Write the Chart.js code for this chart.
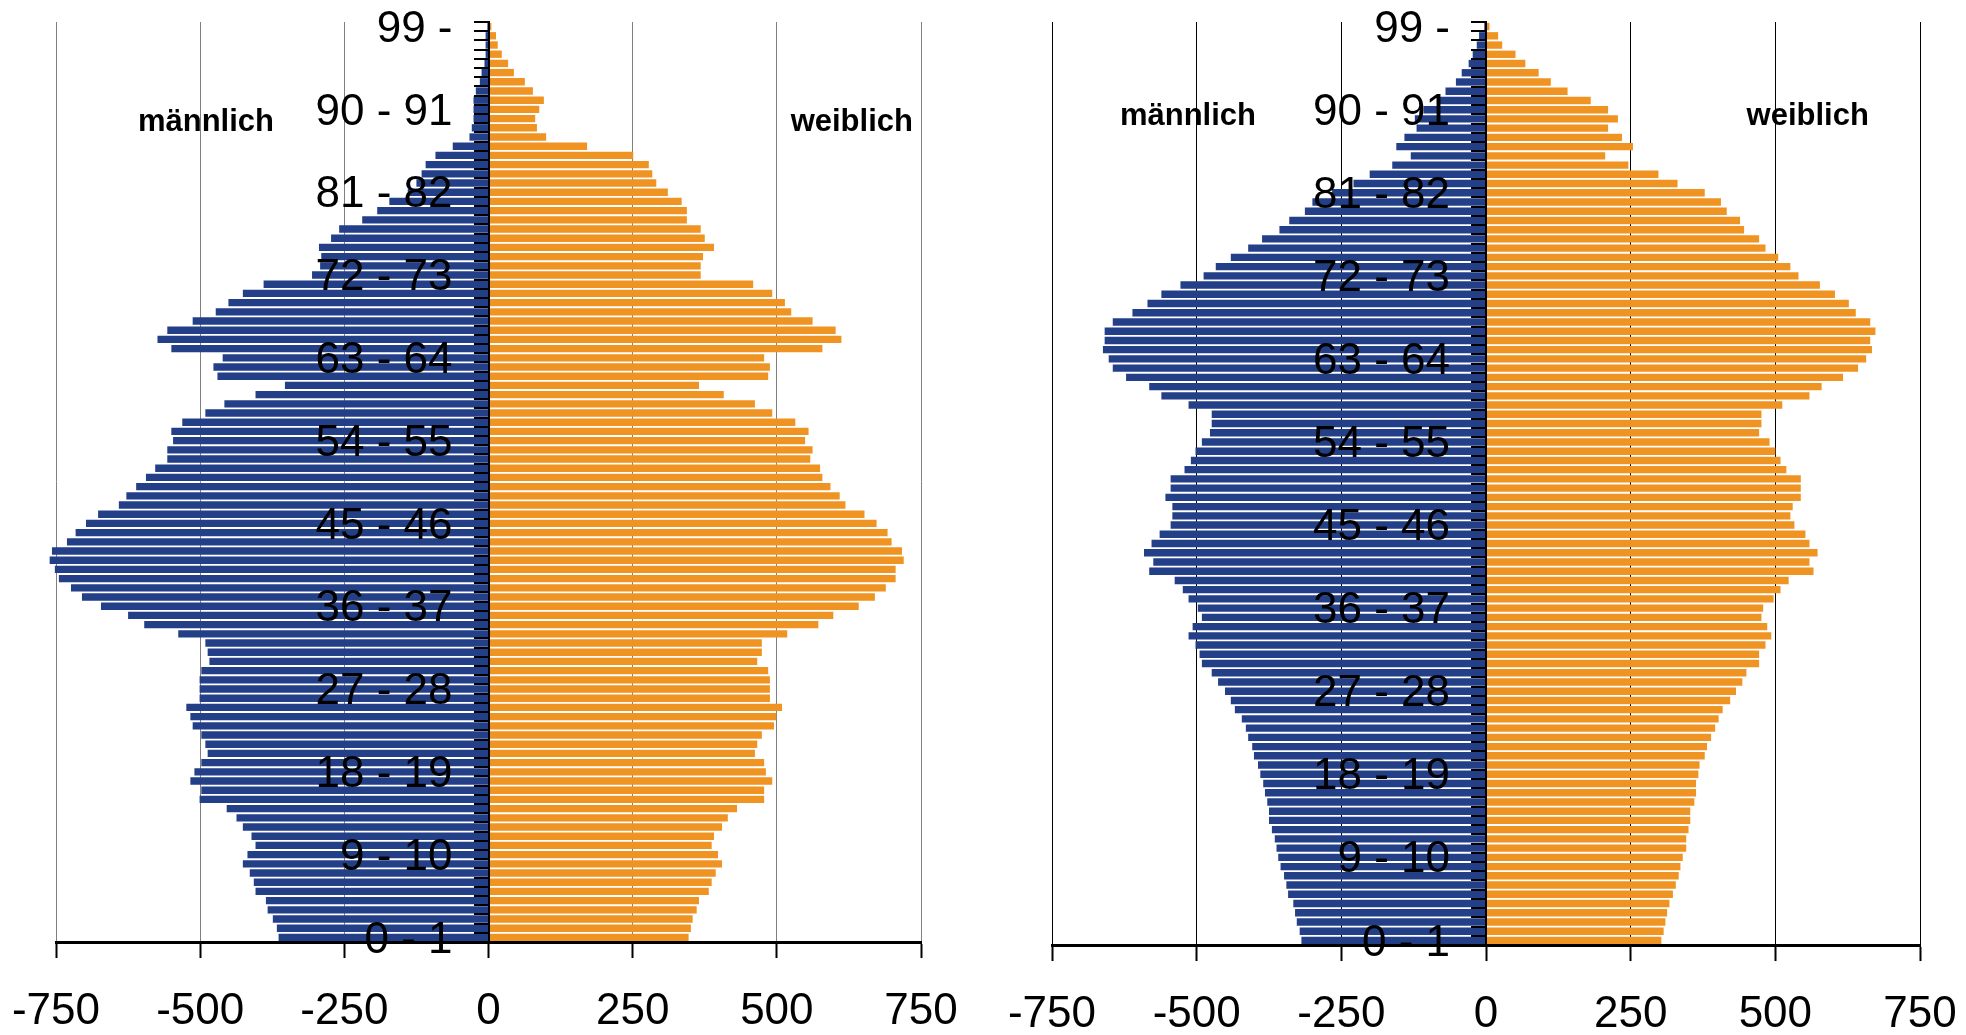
<!DOCTYPE html>
<html>
<head>
<meta charset="utf-8">
<script src="https://cdn.jsdelivr.net/npm/chart.js@4/dist/chart.umd.min.js"></script>
<style>
  html, body { margin: 0; padding: 0; background: #fff; }
  body { width: 1966px; height: 1035px; overflow: hidden; position: relative; }
  .box { position: absolute; top: 0; width: 983px; }
  #boxLeft { left: 0; height: 1066px; }
  #boxRight { left: 983px; height: 1069px; }
</style>
</head>
<body>
<div class="box" id="boxLeft"><canvas id="chartLeft"></canvas></div>
<div class="box" id="boxRight"><canvas id="chartRight"></canvas></div>
<script>
// Altersgruppen 0 - 1 ... 99 -
const ageLabels = [];
for (let a = 0; a < 100; a++) ageLabels.push(a < 99 ? a + ' - ' + (a + 1) : '99 -');

const xTicks = [-750, -500, -250, 0, 250, 500, 750];

// linke Pyramide (index 0 = Alter 0 - 1)
const leftMaennlich = [364,367,374,383,386,404,407,414,426,418, 404,411,426,437,454,501,498,517,510,498,
  487,491,498,513,517,524,501,501,501,498, 484,487,491,538,597,625,672,705,724,745,
  752,761,757,731,716,698,677,641,628,611, 594,578,557,557,547,550,531,491,458,404,
  353,470,477,461,550,574,557,513,473,451, 426,390,306,292,290,294,273,259,219,193,
  172,140,125,116,109,92,62,33,29,26, 26,26,22,15,12,7,5,5,5,2];
const leftWeiblich = [347,351,354,361,365,382,387,394,405,398, 387,391,405,415,431,478,478,492,481,478,
  462,466,474,495,499,509,488,488,488,485, 466,474,474,518,572,598,642,670,689,706,
  706,720,717,699,692,673,652,619,609,593, 579,575,558,562,549,555,532,492,462,408,
  365,485,488,478,579,612,602,562,525,514, 492,459,368,368,372,391,375,368,344,344,
  335,311,291,284,278,251,171,100,84,81, 88,96,77,63,44,34,23,16,13,5];

// rechte Pyramide
const rightMaennlich = [319,322,327,330,333,342,345,349,355,359, 362,365,370,375,375,378,382,385,390,394,
  401,404,411,415,422,434,441,451,463,474, 491,495,502,514,507,491,498,514,524,538,
  582,575,591,578,564,545,542,542,554,545, 545,521,510,502,491,477,474,474,514,561,
  582,622,645,652,662,659,659,645,611,585, 561,528,488,467,441,411,387,357,340,313,
  300,266,229,201,162,130,155,141,120,123, 108,85,70,52,42,30,23,16,12,3];
const rightWeiblich = [303,307,310,313,317,323,328,333,336,340, 346,346,350,353,353,360,363,363,367,369,
  378,382,389,396,402,409,422,432,443,450, 472,472,483,493,486,476,479,497,509,523,
  566,559,573,559,552,533,526,530,544,544, 544,519,509,500,490,472,476,476,512,559,
  580,617,643,657,667,664,673,664,639,627, 603,577,540,526,505,483,472,446,439,416,
  406,378,331,298,246,206,254,235,211,228, 211,181,141,112,91,68,51,28,21,6];

const BLAU = '#233f88';
const ORANGE = '#ef9322';
const FONT = "'Liberation Sans', Arial, sans-serif";

Chart.defaults.font.family = FONT;
Chart.defaults.color = '#000';

// Alterslabels (jede 9. Gruppe) links neben der Nullachse, über den Balken
const ageAxisLabels = {
  id: 'ageAxisLabels',
  afterDraw(chart) {
    const {ctx, scales: {x, y}} = chart;
    const x0 = x.getPixelForValue(0) - 36;
    ctx.save();
    ctx.font = '44px ' + FONT;
    ctx.fillStyle = '#000';
    ctx.textAlign = 'right';
    ctx.textBaseline = 'middle';
    ageLabels.forEach((lab, i) => {
      if (i % 9 === 0) ctx.fillText(lab, x0, y.getPixelForValue(i) + 3);
    });
    ctx.restore();
  }
};

const sideLabels = {
  id: 'sideLabels',
  afterDatasetsDraw(chart, args, opts) {
    const {ctx, scales: {x}, chartArea} = chart;
    ctx.save();
    ctx.font = 'bold 31px ' + FONT;
    ctx.fillStyle = '#000';
    ctx.textAlign = 'center';
    ctx.textBaseline = 'middle';
    const y = chartArea.top + opts.dy;
    ctx.fillText('männlich', x.getPixelForValue(opts.m), y);
    ctx.fillText('weiblich', x.getPixelForValue(opts.w), y);
    ctx.restore();
  }
};

function makePyramid(id, maennlich, weiblich, pad, gridColor, lab) {
  const ctx = document.getElementById(id).getContext('2d');
  return new Chart(ctx, {
    type: 'bar',
    data: {
      labels: ageLabels,
      datasets: [
        { label: 'männlich', data: maennlich.map(v => -v), backgroundColor: BLAU, borderWidth: 0, clip: false },
        { label: 'weiblich', data: weiblich, backgroundColor: ORANGE, borderWidth: 0, clip: false }
      ]
    },
    options: {
      indexAxis: 'y',
      responsive: true,
      maintainAspectRatio: false,
      devicePixelRatio: 1,
      animation: false,
      layout: { padding: pad },
      datasets: { bar: { barPercentage: 0.8, categoryPercentage: 1.0 } },
      plugins: {
        legend: { display: false },
        tooltip: { enabled: false },
        sideLabels: lab
      },
      scales: {
        x: {
          stacked: true,
          min: -750, max: 750,
          afterBuildTicks: s => { s.ticks = xTicks.map(v => ({ value: v })); },
          ticks: { font: { size: 44, lineHeight: 2.09 }, padding: 8, callback: v => String(v) },
          grid: { color: gridColor, lineWidth: 1, tickColor: '#000', tickWidth: 2, tickLength: 16 },
          border: { display: true, color: '#000', width: 3 }
        },
        y: {
          stacked: true,
          reverse: true,
          position: { x: 0 },
          ticks: { display: false, autoSkip: false },
          grid: { drawOnChartArea: false, color: '#000', lineWidth: 2, tickLength: 14, z: 1 },
          border: { display: true, color: '#000', width: 2, z: 1 }
        }
      }
    },
    plugins: [sideLabels, ageAxisLabels]
  });
}

makePyramid('chartLeft', leftMaennlich, leftWeiblich,
  { left: 56, right: 62, top: 22, bottom: 0 }, '#808080', { m: -490, w: 630, dy: 100 });
makePyramid('chartRight', rightMaennlich, rightWeiblich,
  { left: 69, right: 46, top: 22, bottom: 0 }, '#000000', { m: -515, w: 556, dy: 94 });
</script>
</body>
</html>
